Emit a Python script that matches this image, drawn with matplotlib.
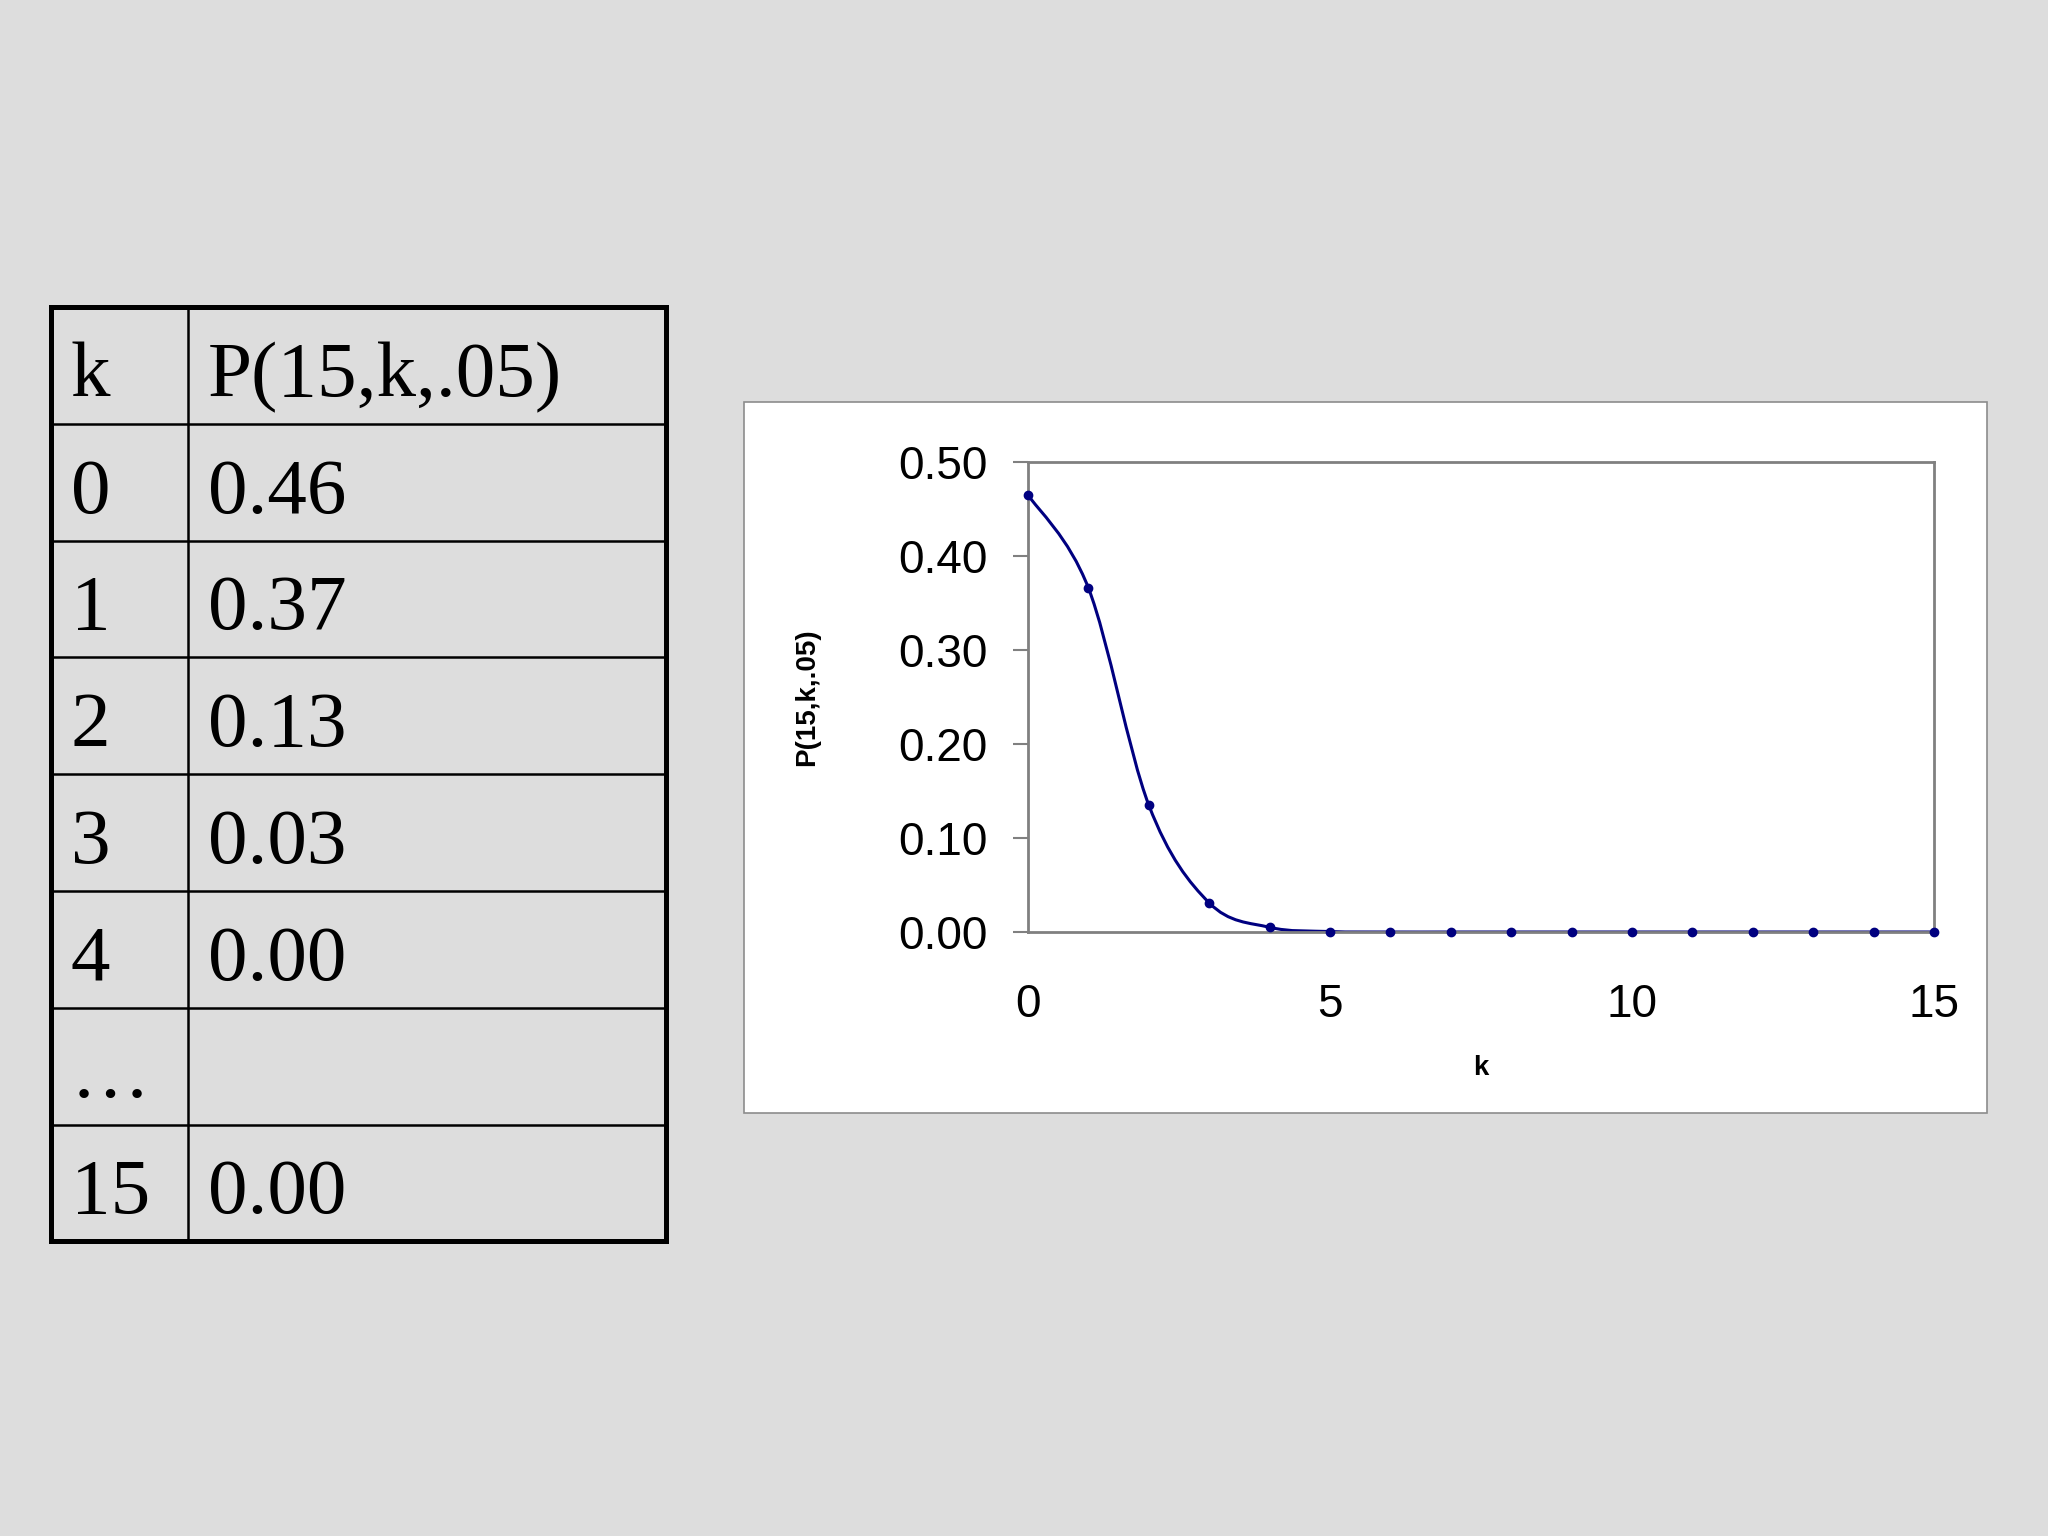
import matplotlib
matplotlib.use("Agg")
import matplotlib.pyplot as plt
from matplotlib.path import Path
from matplotlib.patches import PathPatch, Rectangle

# data
k_values = list(range(16))
p_values = [0.465, 0.366, 0.135, 0.031, 0.005, 0.0005, 0.0, 0.0,
            0.0, 0.0, 0.0, 0.0, 0.0, 0.0, 0.0, 0.0]

table_k = ["k", "0", "1", "2", "3", "4", "\u2026", "15"]
table_p = ["P(15,k,.05)", "0.46", "0.37", "0.13", "0.03", "0.00", "", "0.00"]

y_ticks = [0.0, 0.1, 0.2, 0.3, 0.4, 0.5]
x_ticks = [0, 5, 10, 15]

W, H = 2048, 1536
bg = "#dddddd"
navy = "#000080"

fig = plt.figure(figsize=(20.48, 15.36), dpi=100, facecolor=bg)

# page layer in pixel coords (for the table and the chart frame)
page = fig.add_axes([0, 0, 1, 1])
page.set_xlim(0, W)
page.set_ylim(H, 0)
page.axis("off")

# table
tab_left, tab_sep, tab_right = 51, 188, 666
tab_top, row_h = 307, 116.8
n_rows = len(table_k)
tab_bottom = tab_top + row_h * n_rows
for i in range(1, n_rows):
    y = tab_top + row_h * i
    page.plot([tab_left, tab_right], [y, y], color="black", lw=1.8)
page.plot([tab_sep, tab_sep], [tab_top, tab_bottom], color="black", lw=1.8)
page.add_patch(Rectangle((tab_left, tab_top), tab_right - tab_left,
                         tab_bottom - tab_top, fill=False, ec="black", lw=3.6))
for i, (kk, pp) in enumerate(zip(table_k, table_p)):
    base = tab_top + row_h * (i + 1) - 28
    page.text(71, base, kk, fontsize=57, family="Liberation Serif",
              va="baseline", ha="left")
    page.text(208, base, pp, fontsize=57, family="Liberation Serif",
              va="baseline", ha="left")

# white chart frame
page.add_patch(Rectangle((744, 402), 1987 - 744, 1113 - 402,
                         fc="white", ec="#8c8c8c", lw=1.2))

# chart
ax = fig.add_axes([1028 / W, 1 - 932 / H, (1934 - 1028) / W, (932 - 462) / H])
ax.set_xlim(0, 15)
ax.set_ylim(0, 0.5)
for s in ax.spines.values():
    s.set_color("#808080")
    s.set_linewidth(2)

# smoothed line through the points (Catmull-Rom as cubic bezier)
verts = [(k_values[0], p_values[0])]
codes = [Path.MOVETO]
n = len(k_values)
for i in range(n - 1):
    x0, y0 = k_values[max(i - 1, 0)], p_values[max(i - 1, 0)]
    x1, y1 = k_values[i], p_values[i]
    x2, y2 = k_values[i + 1], p_values[i + 1]
    x3, y3 = k_values[min(i + 2, n - 1)], p_values[min(i + 2, n - 1)]
    verts += [(x1 + (x2 - x0) / 6, y1 + (y2 - y0) / 6),
              (x2 - (x3 - x1) / 6, y2 - (y3 - y1) / 6),
              (x2, y2)]
    codes += [Path.CURVE4] * 3
ax.add_patch(PathPatch(Path(verts, codes), fill=False, ec=navy, lw=2.2))
ax.plot(k_values, p_values, "o", color=navy, ms=6, clip_on=False, zorder=5)

ax.set_yticks(y_ticks)
ax.set_yticklabels([f"{v:.2f}" for v in y_ticks])
ax.set_xticks(x_ticks)
ax.tick_params(axis="y", length=11, width=1.5, color="#808080", pad=18,
               labelsize=33)
ax.tick_params(axis="x", length=0, pad=37, labelsize=33)
for lab in ax.get_xticklabels() + ax.get_yticklabels():
    lab.set_family("Liberation Sans")

ax.set_ylabel("P(15,k,.05)", fontsize=20, fontweight="bold",
              family="Liberation Sans", labelpad=56)
ax.set_xlabel("k", fontsize=20, fontweight="bold", family="Liberation Sans",
              labelpad=20)

fig.savefig("out.png", dpi=100, facecolor=bg)
